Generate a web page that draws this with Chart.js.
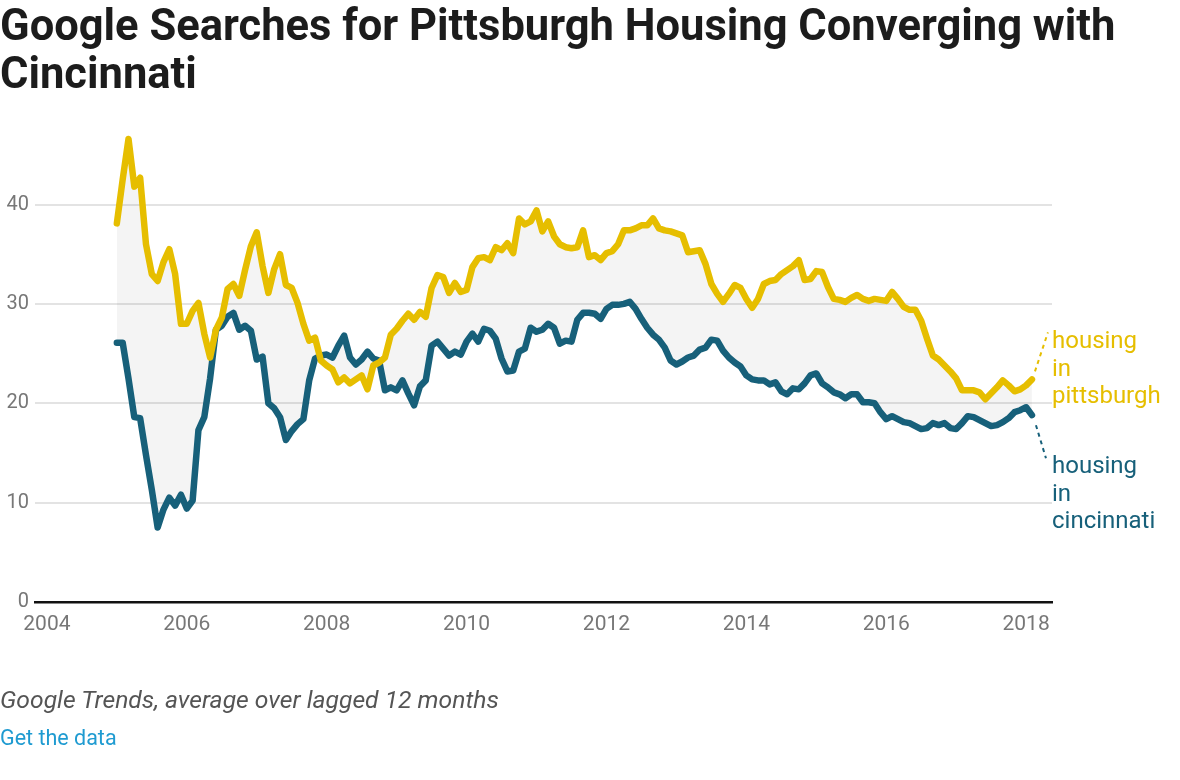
<!DOCTYPE html>
<html>
<head>
<meta charset="utf-8">
<script src="https://cdn.jsdelivr.net/npm/chart.js@4.4.1/dist/chart.umd.min.js"></script>
<style>
  html, body { margin: 0; padding: 0; background: #fff; }
  body { width: 1180px; height: 780px; position: relative; overflow: hidden; font-family: Roboto, sans-serif; }
  #wrap { position: absolute; left: 0; top: 0; width: 1180px; height: 780px; }
  #title { position: absolute; left: 0; top: 2px; width: 1160px; margin: 0; z-index: 2;
           font-size: 43.5px; font-weight: 700; line-height: 48px; color: #1c1c1c; }
  #note { position: absolute; left: 0; top: 686px; font-size: 24.7px; font-style: italic; line-height: 28px; color: #555; z-index: 2; }
  #link { position: absolute; left: 0; top: 726px; font-size: 21.5px; line-height: 24px; color: #1f9bd1; z-index: 2; }
</style>
</head>
<body>
<h1 id="title">Google Searches for Pittsburgh Housing Converging with Cincinnati</h1>
<div id="wrap"><canvas id="chart" width="1180" height="780"></canvas></div>
<div id="note">Google Trends, average over lagged 12 months</div>
<div id="link">Get the data</div>
<script>
// monthly values, Jan 2005 .. Feb 2018
const firstYear = 2005;
const xTicks = [2004, 2006, 2008, 2010, 2012, 2014, 2016, 2018];
const yTicks = [0, 10, 20, 30, 40];

const pittsburgh = [
  38.1, 42.5, 46.6, 41.8, 42.7, 36.0, 33.0, 32.3, 34.2, 35.5,
  33.0, 28.0, 28.0, 29.3, 30.1, 27.0, 24.6, 27.4, 28.6, 31.5,
  32.0, 30.8, 33.4, 35.8, 37.2, 33.8, 31.1, 33.5, 35.0, 31.9,
  31.6, 30.1, 28.0, 26.3, 26.6, 24.3, 23.8, 23.4, 22.1, 22.6,
  22.0, 22.4, 22.8, 21.4, 23.8, 24.1, 24.6, 26.9, 27.5, 28.3,
  29.0, 28.4, 29.2, 28.7, 31.6, 32.9, 32.7, 31.1, 32.1, 31.2,
  31.4, 33.7, 34.6, 34.7, 34.4, 35.7, 35.4, 36.1, 35.1, 38.6,
  38.0, 38.3, 39.4, 37.3, 38.3, 36.8, 36.0, 35.7, 35.6, 35.7,
  37.4, 34.7, 34.9, 34.4, 35.1, 35.3, 36.0, 37.4, 37.4, 37.6,
  37.9, 37.9, 38.6, 37.6, 37.4, 37.3, 37.1, 36.9, 35.2, 35.3,
  35.4, 34.0, 32.0, 31.0, 30.2, 31.0, 31.9, 31.6, 30.5, 29.6,
  30.5, 32.0, 32.3, 32.4, 33.0, 33.4, 33.8, 34.4, 32.4, 32.5,
  33.3, 33.2, 31.7, 30.5, 30.4, 30.2, 30.6, 30.9, 30.5, 30.3,
  30.5, 30.4, 30.3, 31.2, 30.5, 29.7, 29.4, 29.4, 28.3, 26.5,
  24.8, 24.4, 23.8, 23.2, 22.5, 21.3, 21.3, 21.3, 21.1, 20.4,
  21.0, 21.6, 22.3, 21.8, 21.2, 21.4, 21.8, 22.4
];

const cincinnati = [
  26.1, 26.1, 22.5, 18.6, 18.5, 14.8, 11.3, 7.5, 9.3, 10.5,
  9.7, 10.8, 9.4, 10.2, 17.3, 18.6, 22.5, 27.4, 27.8, 28.7,
  29.1, 27.4, 27.8, 27.3, 24.4, 24.7, 20.0, 19.5, 18.6, 16.3,
  17.2, 17.9, 18.4, 22.3, 24.5, 24.8, 24.9, 24.6, 25.8, 26.8,
  24.6, 23.9, 24.4, 25.2, 24.5, 24.3, 21.3, 21.6, 21.3, 22.3,
  21.0, 19.8, 21.7, 22.3, 25.8, 26.2, 25.5, 24.8, 25.2, 24.9,
  26.2, 27.0, 26.2, 27.5, 27.3, 26.5, 24.5, 23.2, 23.3, 25.2,
  25.5, 27.6, 27.2, 27.4, 28.0, 27.6, 26.0, 26.3, 26.2, 28.4,
  29.1, 29.1, 29.0, 28.5, 29.5, 29.9, 29.9, 30.0, 30.2, 29.5,
  28.5, 27.6, 26.9, 26.4, 25.6, 24.3, 23.9, 24.2, 24.6, 24.8,
  25.4, 25.6, 26.4, 26.3, 25.3, 24.6, 24.1, 23.7, 22.8, 22.4,
  22.3, 22.3, 21.9, 22.1, 21.2, 20.9, 21.5, 21.4, 22.0, 22.8,
  23.0, 22.0, 21.6, 21.1, 20.9, 20.5, 20.9, 20.9, 20.1, 20.1,
  20.0, 19.1, 18.4, 18.7, 18.4, 18.1, 18.0, 17.7, 17.4, 17.5,
  18.0, 17.8, 18.0, 17.5, 17.4, 18.0, 18.7, 18.6, 18.3, 18.0,
  17.7, 17.8, 18.1, 18.5, 19.1, 19.3, 19.6, 18.8
];

const monthX = pittsburgh.map((_, i) => firstYear + i / 12);

const YELLOW = '#e6be00';
const TEAL = '#17607a';

// dotted leader lines + the two series labels at the right end
const endLabels = {
  id: 'endLabels',
  afterDatasetsDraw(chart) {
    const ctx = chart.ctx;
    const sx = chart.scales.x, sy = chart.scales.y;
    const n = monthX.length - 1;
    const px = sx.getPixelForValue(monthX[n]);
    const yP = sy.getPixelForValue(pittsburgh[n]);
    const yC = sy.getPixelForValue(cincinnati[n]);
    const lx = chart.chartArea.right;

    ctx.save();
    ctx.lineWidth = 2;
    ctx.setLineDash([4, 4]);
    ctx.strokeStyle = YELLOW;
    ctx.beginPath(); ctx.moveTo(px + 3, yP - 8); ctx.lineTo(px + 16, yP - 47); ctx.stroke();
    ctx.strokeStyle = TEAL;
    ctx.beginPath(); ctx.moveTo(px + 4, yC + 10); ctx.lineTo(px + 14, yC + 43); ctx.stroke();
    ctx.setLineDash([]);

    ctx.font = '24px Roboto';
    ctx.textAlign = 'left';
    ctx.textBaseline = 'alphabetic';
    ctx.fillStyle = YELLOW;
    ['housing', 'in', 'pittsburgh'].forEach((t, i) => ctx.fillText(t, lx, 348 + i * 27.5));
    ctx.fillStyle = TEAL;
    ['housing', 'in', 'cincinnati'].forEach((t, i) => ctx.fillText(t, lx, 473 + i * 27.5));
    ctx.restore();
  }
};

new Chart(document.getElementById('chart').getContext('2d'), {
  type: 'line',
  data: {
    datasets: [
      {
        label: 'housing in pittsburgh',
        data: pittsburgh.map((v, i) => ({ x: monthX[i], y: v })),
        borderColor: YELLOW,
        borderWidth: 6.5,
        pointRadius: 0,
        tension: 0,
        fill: false,
        borderJoinStyle: 'round',
        borderCapStyle: 'round'
      },
      {
        label: 'housing in cincinnati',
        data: cincinnati.map((v, i) => ({ x: monthX[i], y: v })),
        borderColor: TEAL,
        backgroundColor: 'rgba(0,0,0,0.045)',
        borderWidth: 6.5,
        pointRadius: 0,
        tension: 0,
        fill: '-1',
        borderJoinStyle: 'round',
        borderCapStyle: 'round'
      }
    ]
  },
  options: {
    responsive: false,
    animation: false,
    devicePixelRatio: 1,
    layout: { padding: { top: 125, right: 128, bottom: 138, left: 0 } },
    scales: {
      x: {
        type: 'linear',
        min: 2003.83,
        max: 2018.37,
        afterBuildTicks: s => { s.ticks = xTicks.map(v => ({ value: v })); },
        afterFit: s => { s.height = 40; },
        grid: { display: false, drawTicks: false },
        border: { display: true, color: '#111', width: 2.5 },
        ticks: {
          padding: 10,
          color: '#777',
          font: { family: 'Roboto', size: 21 },
          maxRotation: 0,
          callback: v => String(v)
        }
      },
      y: {
        min: 0,
        max: 48,
        afterBuildTicks: s => { s.ticks = yTicks.map(v => ({ value: v })); },
        afterFit: s => { s.width = 35; },
        grid: {
          color: c => c.tick && c.tick.value === 0 ? 'rgba(0,0,0,0)' : '#e3e3e3',
          lineWidth: 2,
          drawTicks: false
        },
        border: { display: false },
        ticks: {
          padding: 6,
          color: '#777',
          font: { family: 'Roboto', size: 20 },
          callback: v => String(v)
        }
      }
    },
    plugins: {
      legend: { display: false },
      tooltip: { enabled: false }
    }
  },
  plugins: [endLabels]
});
</script>
</body>
</html>
